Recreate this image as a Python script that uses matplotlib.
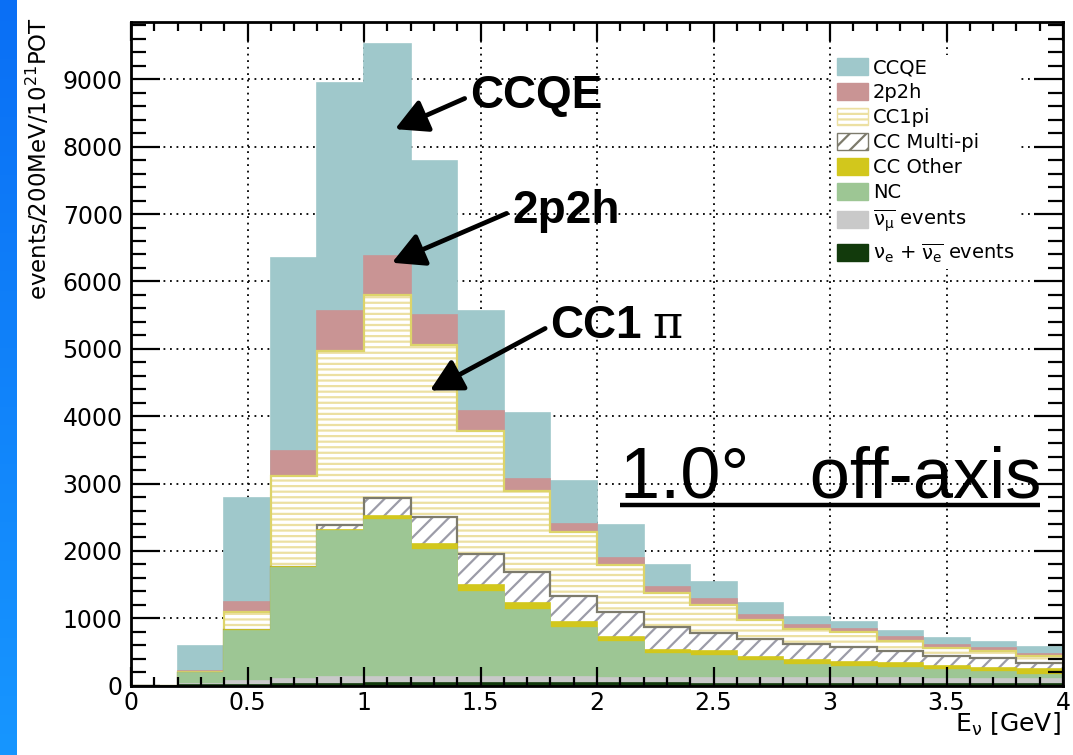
import numpy as np
import matplotlib
matplotlib.use("Agg")
import matplotlib.pyplot as plt
import matplotlib.patches as mpatches
from matplotlib.ticker import MultipleLocator, FuncFormatter

plt.rcParams['font.family'] = ['DejaVu Sans']
plt.rcParams['hatch.linewidth'] = 1.6

# Neutrino energy binning (GeV), 200 MeV bins
bin_edges = np.round(np.arange(0.0, 4.0001, 0.2), 2)

# Events per 200 MeV per 1e21 POT, one list per interaction channel (bottom -> top of the stack)
nue_events     = [0, 5, 15, 25, 30, 35, 35, 35, 35, 35, 35, 35, 30, 30, 30, 30, 30, 30, 30, 30]
numubar_events = [0, 20, 60, 80, 95, 100, 100, 95, 90, 90, 85, 85, 85, 80, 80, 80, 80, 75, 75, 75]
nc_events      = [0, 165, 740, 1639, 2178, 2325, 1881, 1267, 1000, 737, 534, 351, 329, 252, 198, 172, 158, 128, 103, 59]
cc_other       = [0, 2, 7, 11, 15, 61, 87, 99, 108, 80, 74, 64, 74, 69, 79, 73, 67, 57, 57, 89]
cc_multipi     = [0, 3, 8, 10, 70, 269, 394, 456, 452, 391, 372, 343, 267, 255, 231, 215, 175, 158, 142, 80]
cc1pi          = [0, 5, 260, 1340, 2585, 3015, 2565, 1822, 1208, 946, 693, 495, 414, 290, 220, 220, 158, 112, 113, 102]
two_p_two_h    = [0, 15, 149, 372, 584, 569, 446, 297, 178, 124, 100, 89, 85, 67, 57, 55, 49, 45, 45, 41]
ccqe           = [0, 379, 1551, 2874, 3394, 3146, 2282, 1486, 974, 639, 490, 331, 256, 190, 130, 105, 91, 99, 85, 91]

channel_labels = [r'$\mathrm{\nu_{e}}$ + $\overline{\mathrm{\nu_{e}}}$ events',
                  r'$\overline{\mathrm{\nu_{\mu}}}$ events',
                  'NC', 'CC Other', 'CC Multi-pi', 'CC1pi', '2p2h', 'CCQE']
channel_values = [nue_events, numubar_events, nc_events, cc_other,
                  cc_multipi, cc1pi, two_p_two_h, ccqe]

# (fill colour, outline colour, hatch, hatch colour)
channel_styles = [
    ('#123a0c', '#123a0c', None, None),
    ('#c9c9c9', '#c9c9c9', None, None),
    ('#9dc694', '#9dc694', None, None),
    ('#d2c71c', '#d2c71c', None, None),
    ('white', '#7d7b6c', '//', '#9c9ca8'),
    ('white', '#ddd46a', '---', '#ece0a2'),
    ('#c99494', '#c99494', None, None),
    ('#9fc8cb', '#9fc8cb', None, None),
]

fig = plt.figure(figsize=(10.73, 7.55), dpi=100)

# blue side band of the slide
band = fig.add_axes([0, 0, 17 / 1073, 1])
band.imshow(np.linspace(0, 1, 256).reshape(-1, 1), aspect='auto',
            cmap=matplotlib.colors.LinearSegmentedColormap.from_list('b', ['#0a6ff5', '#1796ff']))
band.set_axis_off()

ax = fig.add_axes([131 / 1073, 1 - 685.7 / 755, 932 / 1073, 663.7 / 755])

# cumulative stack, drawn from the top layer down (each filled from zero)
stack_tops = np.cumsum(np.array(channel_values, dtype=float), axis=0)
for k in range(len(channel_values) - 1, -1, -1):
    face, outline, hatch, hcol = channel_styles[k]
    top = stack_tops[k]
    if hatch:
        ax.stairs(top, bin_edges, baseline=0, fill=True, facecolor='white',
                  edgecolor=hcol, hatch=hatch, linewidth=0, zorder=1)
        ax.stairs(top, bin_edges, baseline=0, fill=False, edgecolor=outline,
                  linewidth=1.6, zorder=1)
    else:
        ax.stairs(top, bin_edges, baseline=0, fill=True, facecolor=face,
                  edgecolor=outline, linewidth=1.2, zorder=1)

ax.set_xlim(0, 4)
ax.set_ylim(0, 9850)

# dotted grid behind the histograms
for xv in np.arange(0.5, 4.0, 0.5):
    ax.axvline(xv, color='black', lw=1.3, ls=(0, (1, 2.6)), zorder=0)
for yv in np.arange(1000, 9001, 1000):
    ax.axhline(yv, color='black', lw=1.3, ls=(0, (1, 2.6)), zorder=0)

ax.xaxis.set_major_locator(MultipleLocator(0.5))
ax.xaxis.set_minor_locator(MultipleLocator(0.1))
ax.yaxis.set_major_locator(MultipleLocator(1000))
ax.yaxis.set_minor_locator(MultipleLocator(200))
ax.xaxis.set_major_formatter(FuncFormatter(lambda v, p: '%g' % v))
ax.yaxis.set_major_formatter(FuncFormatter(lambda v, p: '%d' % v))
ax.tick_params(which='both', direction='in', top=True, right=True, width=1.6,
               labelsize=17, colors='black')
ax.tick_params(axis='x', which='major', length=13.5, pad=4)
ax.tick_params(axis='x', which='minor', length=6.5)
ax.tick_params(axis='y', which='major', length=21, pad=6)
ax.tick_params(axis='y', which='minor', length=10.5)
for s in ax.spines.values():
    s.set_linewidth(2)

ax.set_ylabel(r'events/200MeV/10$^{21}$POT', fontsize=16.5, loc='top')
ax.yaxis.set_label_coords(-0.085, 1.007)
ax.set_xlabel(r'E$_{\mathrm{\nu}}$ [GeV]', fontsize=18, loc='right')
ax.xaxis.set_label_coords(0.998, -0.038)

# legend
handles = []
for k in range(len(channel_values) - 1, -1, -1):
    face, outline, hatch, hcol = channel_styles[k]
    if hatch:
        h = mpatches.Patch(facecolor='white', edgecolor=outline if k == 4 else hcol,
                           hatch=hatch, linewidth=1.0, label=channel_labels[k])
    else:
        h = mpatches.Patch(facecolor=face, edgecolor=face, label=channel_labels[k])
    handles.append(h)
leg = ax.legend(handles=handles, loc='upper left', bbox_to_anchor=(0.7535, 0.951),
                fontsize=14, frameon=True, fancybox=False, edgecolor='none',
                facecolor='white', framealpha=1, handlelength=1.6, handleheight=0.95,
                labelspacing=0.3, handletextpad=0.25, borderpad=0.2, borderaxespad=0)

# channel call-outs
arrow_kw = dict(arrowstyle='-|>,head_length=0.75,head_width=0.4', lw=3.4,
                color='black', mutation_scale=26, shrinkA=2, shrinkB=0, relpos=(0, 0.5))
bold = dict(fontsize=33, fontweight='bold', family='Liberation Sans', va='center', ha='left')
ax.annotate('CCQE', xy=(1.133, 8260), xytext=(1.455, 8750), arrowprops=arrow_kw, **bold)
ax.annotate('2p2h', xy=(1.12, 6277), xytext=(1.635, 7044), arrowprops=arrow_kw, **bold)
ax.annotate('CC1', xy=(1.283, 4381), xytext=(1.80, 5344), arrowprops=arrow_kw, **bold)
ax.text(2.236, 5344, 'π', fontsize=33, family='DejaVu Serif', va='center', ha='left')

ax.text(0.5247, 0.284, '1.0°   off-axis', transform=ax.transAxes, fontsize=52,
        family='Liberation Sans', va='baseline', ha='left')
ax.plot([0.5247, 0.9753], [0.2723, 0.2723], transform=ax.transAxes, color='black',
        lw=3.2, clip_on=False, solid_capstyle='butt')

fig.savefig('out.png', dpi=100, facecolor='white')
